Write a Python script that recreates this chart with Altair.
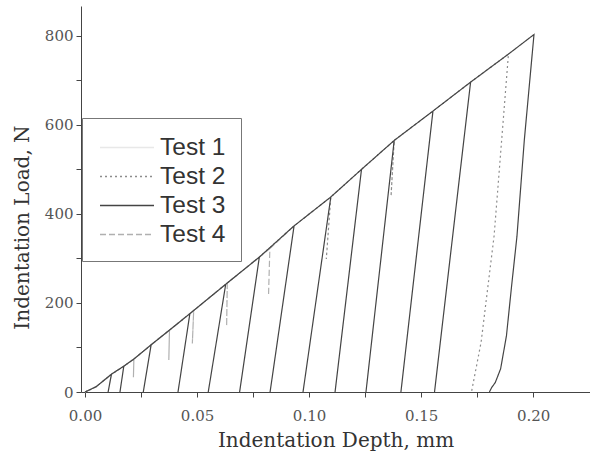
import altair as alt
import pandas as pd

tests = ["Test 1", "Test 2", "Test 3", "Test 4"]

# Test 1 (very light solid)
test1_depth = [0, 0.005, 0.0118, 0.0110, 0.0118, 0.0173, 0.0218, 0.0295, 0.0377, 0.0468, 0.0628, 0.0778]
test1_load = [0, 12, 40, 20, 40, 58, 74, 106, 139, 176, 242, 303]

# Test 2 (dotted)
test2_depth = [0, 0.005, 0.0118, 0.0173, 0.0218, 0.0295, 0.0377, 0.0468, 0.0628, 0.0778, 0.0933,
               0.1097, 0.1077, 0.1097, 0.1234, 0.138, 0.1366, 0.138, 0.1553, 0.1721, 0.189,
               0.1826, 0.1768, 0.1725]
test2_load = [0, 12, 40, 58, 74, 106, 139, 176, 242, 303, 373,
              438, 299, 438, 500, 565, 440, 565, 631, 696, 759,
              351, 112, 0]

# Test 3 (solid dark)
test3_depth = [0, 0.005, 0.0118, 0.0103, 0.0118, 0.0173, 0.0156, 0.0173, 0.0218, 0.0295, 0.026, 0.0295,
               0.0377, 0.0468, 0.0415, 0.0468, 0.0628, 0.055, 0.0628, 0.0778, 0.069, 0.0778,
               0.0933, 0.0826, 0.0933, 0.1097, 0.0973, 0.1097, 0.1234, 0.1116, 0.1234,
               0.138, 0.1254, 0.138, 0.1553, 0.141, 0.1553, 0.1721, 0.156, 0.1721,
               0.189, 0.2004, 0.1961, 0.1928, 0.1904, 0.1881, 0.1855, 0.1831, 0.1815, 0.1805]
test3_load = [0, 12, 40, 0, 40, 58, 0, 58, 74, 106, 0, 106,
              139, 176, 0, 176, 242, 0, 242, 303, 0, 303,
              373, 0, 373, 438, 0, 438, 500, 0, 500,
              565, 0, 565, 631, 0, 631, 696, 0, 696,
              759, 803, 567, 350, 238, 126, 52, 21, 10, 0]

# Test 4 (dashed)
test4_depth = [0, 0.005, 0.0118, 0.0173, 0.0218, 0.0216, 0.0218, 0.0295, 0.0377, 0.0374, 0.0377,
               0.0468, 0.0485, 0.0479, 0.0485, 0.0628, 0.0635, 0.0632, 0.0635, 0.0778,
               0.0825, 0.0819, 0.0825, 0.0933]
test4_load = [0, 12, 40, 58, 74, 33, 74, 106, 139, 72, 139,
              176, 183, 109, 183, 242, 245, 148, 245, 303,
              322, 217, 322, 373]

series = [("Test 1", test1_depth, test1_load), ("Test 2", test2_depth, test2_load),
          ("Test 3", test3_depth, test3_load), ("Test 4", test4_depth, test4_load)]
rows = []
for name, ds, ls in series:
    for i, (d, l) in enumerate(zip(ds, ls)):
        rows.append({"test": name, "depth": d, "load": l, "seq": i})
df = pd.DataFrame(rows)

colors = ["#e8e8e8", "#8c8c8c", "#444444", "#b0b0b0"]
dashes = [[1, 0], [2, 3], [1, 0], [6, 3]]

x_ticks = [0, 0.025, 0.05, 0.075, 0.1, 0.125, 0.15, 0.175, 0.2]
y_ticks = [0, 100, 200, 300, 400, 500, 600, 700, 800]

x_enc = alt.X("depth:Q",
              scale=alt.Scale(domain=[-0.0018, 0.2254], nice=False, zero=False),
              axis=alt.Axis(values=x_ticks, format=".2f",
                            labelExpr="abs(datum.value*20 - round(datum.value*20)) < 0.001 ? datum.label : ''",
                            title="Indentation Depth, mm", tickSize=5, labelPadding=11,
                            titlePadding=7))
y_enc = alt.Y("load:Q",
              scale=alt.Scale(domain=[0, 867], nice=False),
              axis=alt.Axis(values=y_ticks,
                            labelExpr="datum.value % 200 === 0 ? datum.label : ''",
                            title="Indentation Load, N", tickSize=5, labelPadding=3,
                            titlePadding=12, titleY=221))
color_enc = alt.Color("test:N", scale=alt.Scale(domain=tests, range=colors), title=None)
dash_enc = alt.StrokeDash("test:N", scale=alt.Scale(domain=tests, range=dashes), title=None)

base = alt.Chart(df).mark_line(strokeWidth=1.2).encode(
    x=x_enc, y=y_enc, color=color_enc, strokeDash=dash_enc, order="seq:Q"
)

back = base.transform_filter(alt.datum.test != "Test 3")
front = base.transform_filter(alt.datum.test == "Test 3")

chart = alt.layer(back, front).properties(
    width=509, height=386,
    autosize=alt.AutoSizeParams(type="none"),
    padding={"left": 81, "top": 6, "right": 0, "bottom": 61},
    background="white",
).configure_view(stroke=None).configure_axis(
    grid=False,
    domainColor="#444", tickColor="#444",
    labelFont="DejaVu Serif", labelFontSize=15, labelColor="#555",
    titleFont="DejaVu Serif", titleFontSize=20, titleFontWeight="normal", titleColor="#333",
).configure_legend(
    orient="none", legendX=1, legendY=112,
    padding=15, strokeColor="#777", fillColor="white",
    symbolType="M-2,0L2,0", symbolSize=729, symbolStrokeWidth=1.5,
    symbolOffset=15.5, labelOffset=18.5, rowPadding=3,
    labelFont="Liberation Sans", labelFontSize=24.5, labelColor="#333", labelLimit=300,
)

chart.save("out.html", embed_options={"renderer": "svg", "actions": False})
